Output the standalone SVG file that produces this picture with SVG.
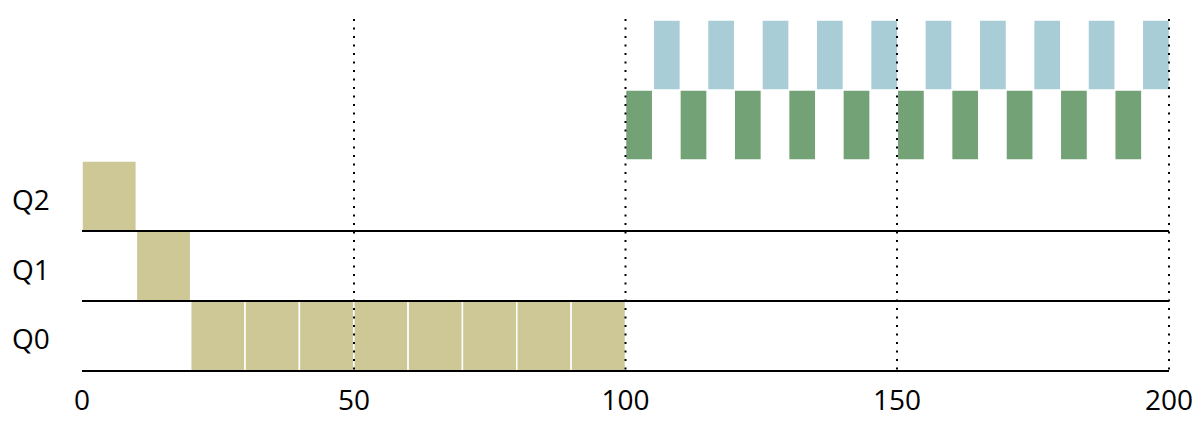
<svg xmlns="http://www.w3.org/2000/svg" width="1200" height="432" viewBox="0 0 1200 432">
<style>
.t{font-family:"Open Sans","Noto Sans","Liberation Sans",sans-serif;font-size:28px;fill:#000}
.ax{text-anchor:middle}
.tan{fill:#CEC796;stroke:#fff;stroke-width:1.5}
.grn{fill:#73A277;stroke:#fff;stroke-width:1.5}
.blu{fill:#A8CDD6;stroke:#fff;stroke-width:1.5}
.row{stroke:#000;stroke-width:2;fill:none}
.dot{stroke:#000;stroke-width:2;stroke-dasharray:2 6.5;fill:none}
</style>
<rect width="1200" height="432" fill="#fff"/>
<g id="labels">
<text class="t" x="12" y="210">Q2</text>
<text class="t" x="12" y="280">Q1</text>
<text class="t" x="12" y="349">Q0</text>
</g>
<g id="blue-blocks">
<rect class="blu" x="653.2" y="20" width="27.2" height="70"/>
<rect class="blu" x="707.5" y="20" width="27.2" height="70"/>
<rect class="blu" x="761.9" y="20" width="27.2" height="70"/>
<rect class="blu" x="816.2" y="20" width="27.2" height="70"/>
<rect class="blu" x="870.6" y="20" width="27.2" height="70"/>
<rect class="blu" x="924.9" y="20" width="27.2" height="70"/>
<rect class="blu" x="979.3" y="20" width="27.2" height="70"/>
<rect class="blu" x="1033.6" y="20" width="27.2" height="70"/>
<rect class="blu" x="1088" y="20" width="27.2" height="70"/>
<rect class="blu" x="1142.3" y="20" width="27.2" height="70"/>
</g>
<g id="green-blocks">
<rect class="grn" x="625.5" y="90" width="27.2" height="70"/>
<rect class="grn" x="679.9" y="90" width="27.2" height="70"/>
<rect class="grn" x="734.2" y="90" width="27.2" height="70"/>
<rect class="grn" x="788.6" y="90" width="27.2" height="70"/>
<rect class="grn" x="842.9" y="90" width="27.2" height="70"/>
<rect class="grn" x="897.3" y="90" width="27.2" height="70"/>
<rect class="grn" x="951.6" y="90" width="27.2" height="70"/>
<rect class="grn" x="1006" y="90" width="27.2" height="70"/>
<rect class="grn" x="1060.3" y="90" width="27.2" height="70"/>
<rect class="grn" x="1114.7" y="90" width="27.2" height="70"/>
</g>
<g id="q2-block">
<rect class="tan" x="82" y="161" width="54.35" height="70"/>
</g>
<g id="q1-block">
<rect class="tan" x="136.35" y="231" width="54.35" height="70"/>
</g>
<g id="q0-blocks">
<rect class="tan" x="190.7" y="301" width="54.35" height="70"/>
<rect class="tan" x="245.05" y="301" width="54.35" height="70"/>
<rect class="tan" x="299.4" y="301" width="54.35" height="70"/>
<rect class="tan" x="353.75" y="301" width="54.35" height="70"/>
<rect class="tan" x="408.1" y="301" width="54.35" height="70"/>
<rect class="tan" x="462.45" y="301" width="54.35" height="70"/>
<rect class="tan" x="516.8" y="301" width="54.35" height="70"/>
<rect class="tan" x="571.15" y="301" width="54.35" height="70"/>
</g>
<g id="connectors">
<line class="row" x1="82" y1="231" x2="1169" y2="231"/>
<line class="row" x1="82" y1="301" x2="1169" y2="301"/>
<line class="row" x1="82" y1="371" x2="1169" y2="371"/>
<line class="dot" x1="354" y1="19" x2="354" y2="372"/>
<line class="dot" x1="625.5" y1="19" x2="625.5" y2="372"/>
<line class="dot" x1="897" y1="19" x2="897" y2="372"/>
<line class="dot" x1="1169" y1="19" x2="1169" y2="372"/>
</g>
<g id="axis">
<text class="t ax" x="82" y="410">0</text>
<text class="t ax" x="354" y="410">50</text>
<text class="t ax" x="625.5" y="410">100</text>
<text class="t ax" x="897" y="410">150</text>
<text class="t ax" x="1169" y="410">200</text>
</g>
</svg>
